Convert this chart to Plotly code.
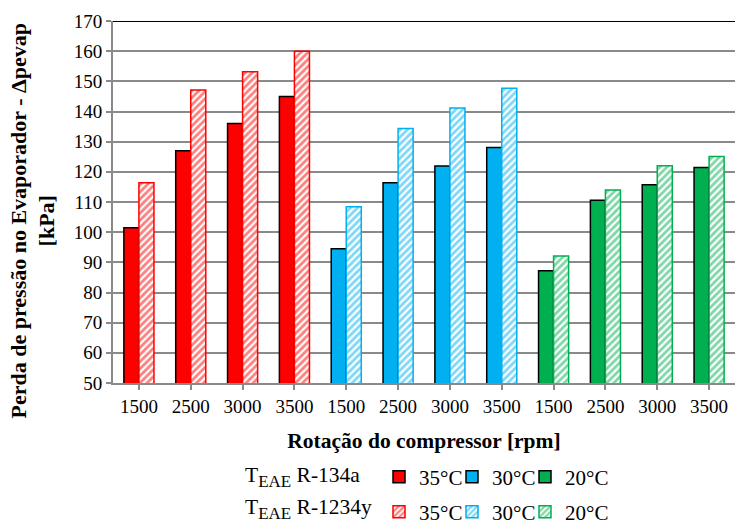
import plotly.graph_objects as go

# rotação do compressor (rpm) e temperaturas do ar de entrada
rpm = ["1500", "2500", "3000", "3500"]
temps = ["35°C", "30°C", "20°C"]
colors = ["#FF0000", "#00B0F0", "#00B050"]

# perda de pressão no evaporador [kPa]
r134a_35 = [101.5, 127.0, 136.0, 145.0]
r134a_30 = [94.5, 116.4, 121.9, 128.1]
r134a_20 = [87.2, 110.6, 115.7, 121.4]
r1234y_35 = [116.4, 147.1, 153.2, 160.0]
r1234y_30 = [108.4, 134.4, 141.2, 147.7]
r1234y_20 = [92.1, 114.0, 122.0, 125.1]

FONT = "Liberation Serif, Times New Roman, serif"
GRID = "#8a8a8a"
W, H = 735, 525

# one legend per entry so each box can be placed like the Excel legend
leg_x = [400, 473, 546]      # symbol centres (px)
leg_y = [477, 512]           # row centres (px)

fig = go.Figure()
legends = {}

series = [[r134a_35, r134a_30, r134a_20], [r1234y_35, r1234y_30, r1234y_20]]
for row, vals_row in enumerate(series):
    for g, (t, c, vals) in enumerate(zip(temps, colors, vals_row)):
        n = row * 3 + g + 1
        lid = "legend" if n == 1 else "legend%d" % n
        if row == 0:
            marker = dict(color=c, line=dict(color="black", width=1.5))
        else:
            marker = dict(color="white", line=dict(color=c, width=1.5),
                          pattern=dict(shape="/", fgcolor=c, bgcolor="white",
                                       size=5, solidity=0.55))
        fig.add_trace(go.Bar(
            x=[g * len(rpm) + i for i in range(len(rpm))],
            y=vals,
            name=t,
            offsetgroup="ab"[row],
            legend=lid,
            showlegend=True,
            marker=marker,
        ))
        legends[lid] = dict(
            orientation="h",
            xref="container", x=(leg_x[g] - 21) / W, xanchor="left",
            yref="container", y=1 - leg_y[row] / H, yanchor="middle",
            font=dict(size=21), itemwidth=30,
            bgcolor="rgba(0,0,0,0)",
        )

teae = "T<sub><span style='font-size:17px'>EAE</span></sub> "

fig.update_layout(
    width=W, height=H,
    showlegend=True,
    margin=dict(l=113, r=0, t=21, b=142, autoexpand=False),
    plot_bgcolor="white",
    paper_bgcolor="white",
    font=dict(family=FONT, size=19, color="black"),
    barmode="group",
    bargap=0.42,
    bargroupgap=0,
    xaxis=dict(
        tickvals=list(range(len(rpm) * len(temps))),
        ticktext=rpm * len(temps),
        range=[-0.5, len(rpm) * len(temps) - 0.5],
        showline=True, linecolor=GRID, linewidth=2,
        ticks="outside", tickcolor=GRID, ticklen=5, tickwidth=1.5,
        tickfont=dict(size=19),
        showgrid=False,
        title=dict(text="<b>Rotação do compressor [rpm]</b>", font=dict(size=21.5), standoff=17),
    ),
    yaxis=dict(
        range=[50, 170],
        dtick=10,
        showline=True, linecolor=GRID, linewidth=2,
        ticks="outside", tickcolor=GRID, ticklen=5, tickwidth=1.5,
        tickfont=dict(size=19),
        showgrid=True, gridcolor=GRID, gridwidth=1.5,
        zeroline=False,
    ),
    annotations=[
        dict(text="<b>Perda de pressão no Evaporador - Δpevap<br>[kPa]</b>",
             textangle=-90, xref="paper", yref="paper",
             x=(32.5 - 113) / 622, y=(383 - 221) / 362,
             xanchor="center", yanchor="middle", showarrow=False,
             font=dict(size=22)),
        dict(text=teae + "R-134a", xref="paper", yref="paper",
             x=(243 - 113) / 622, y=(383 - leg_y[0]) / 362,
             xanchor="left", yanchor="middle", showarrow=False,
             font=dict(size=21.5)),
        dict(text=teae + "R-1234y", xref="paper", yref="paper",
             x=(243 - 113) / 622, y=(383 - leg_y[1] + 3) / 362,
             xanchor="left", yanchor="middle", showarrow=False,
             font=dict(size=21.5)),
    ],
    shapes=[dict(type="line", xref="paper", yref="y", x0=0, x1=1, y0=170, y1=170,
                 line=dict(color="black", width=2))],
    **legends,
)

fig.write_html("out.html", config={"displayModeBar": False},
               post_script="document.body.style.margin='0px';")
